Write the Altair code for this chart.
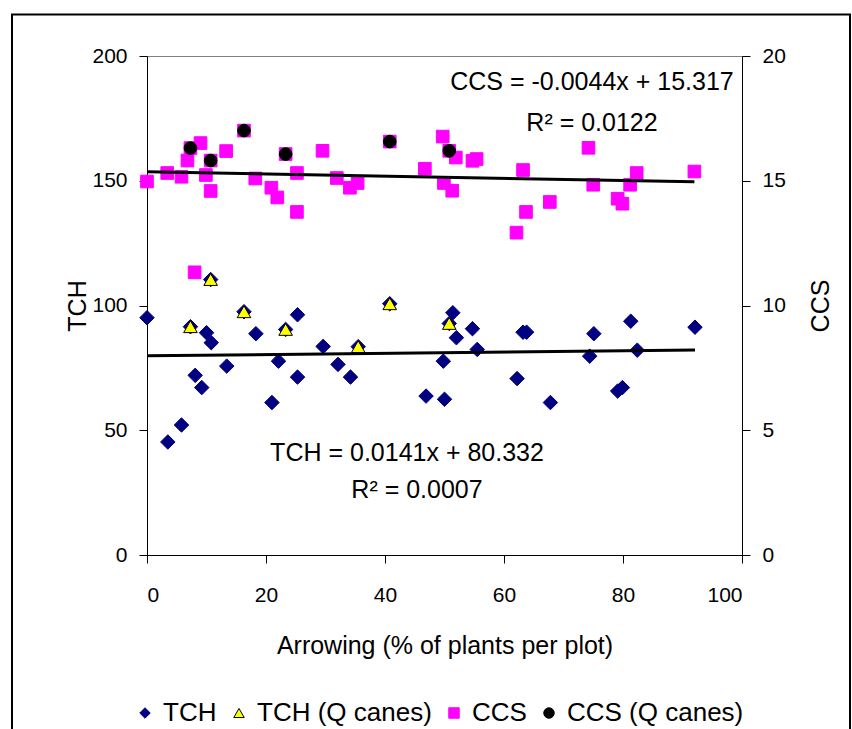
import altair as alt
import pandas as pd

# ---- data ----
tch_x = [0.0, 3.5, 5.8, 8.1, 9.2, 10.0, 10.8, 13.4, 18.3, 21.0, 22.1, 25.3, 25.3, 29.6,
         32.1, 34.2, 46.9, 49.8, 50.0, 51.4, 52.0, 54.7, 55.5, 62.2, 63.2, 63.8, 67.8,
         74.4, 75.1, 79.1, 79.9, 81.3, 82.4, 92.1]
tch_y = [95.1, 45.3, 52.1, 72.0, 67.1, 89.1, 85.1, 75.7, 88.7, 61.1, 77.7, 96.3, 71.3, 83.6,
         76.4, 71.3, 63.7, 77.7, 62.4, 97.1, 87.1, 90.7, 82.4, 70.7, 89.3, 89.3, 61.1,
         79.7, 88.7, 65.7, 67.1, 93.7, 82.1, 91.3]
tchq_x = [7.3, 10.7, 16.3, 23.3, 35.5, 40.8, 50.8]
tchq_y = [91.5, 110.4, 97.5, 90.4, 83.5, 100.7, 92.8]

ccs_x = [0.0, 3.4, 5.8, 6.8, 8.0, 9.0, 9.9, 10.7, 13.3, 18.2, 20.9, 21.9, 25.2, 25.2, 29.5,
         31.9, 34.1, 35.4, 46.7, 49.7, 49.9, 51.3, 51.9, 54.7, 55.4, 62.1, 63.2, 63.7, 67.7,
         74.2, 75.0, 79.1, 79.9, 81.2, 82.3, 92.0]
ccs_y = [14.97, 15.31, 15.16, 15.81, 11.33, 16.51, 15.23, 14.59, 16.19, 15.09, 14.72, 14.33,
         15.31, 13.75, 16.20, 15.11, 14.72, 14.91, 15.48, 16.77, 14.91, 14.60, 15.93, 15.80,
         15.87, 12.92, 15.43, 13.75, 14.15, 16.32, 14.84, 14.28, 14.08, 14.84, 15.31, 15.37]
ccsq_x = [7.3, 10.7, 16.3, 23.3, 40.8, 50.8]
ccsq_y = [16.31, 15.81, 17.01, 16.07, 16.57, 16.20]

series_names = ["TCH", "TCH (Q canes)", "CCS", "CCS (Q canes)"]
annotation_texts = ["CCS = -0.0044x + 15.317", "R\u00b2 = 0.0122",
                    "TCH = 0.0141x + 80.332", "R\u00b2 = 0.0007"]

# ---- styles ----
shapes = ["diamond", "triangle-up", "square", "circle"]
fills = ["#000080", "#FFFF00", "#FF00FF", "#000000"]
strokes = ["#000080", "#000000", "#FF00FF", "#000000"]
sizes = [210, 185, 160, 160]
FONT = "Liberation Sans"

tch_df = pd.DataFrame({
    "x": tch_x + tchq_x + tchq_x,
    "v": tch_y + tchq_y + tchq_y,
    "series": ["TCH"] * (len(tch_x) + len(tchq_x)) + ["TCH (Q canes)"] * len(tchq_x),
})
ccs_df = pd.DataFrame({
    "x": ccs_x + ccsq_x + ccsq_x,
    "v": ccs_y + ccsq_y + ccsq_y,
    "series": ["CCS"] * (len(ccs_x) + len(ccsq_x)) + ["CCS (Q canes)"] * len(ccsq_x),
})

legend = alt.Legend(title=None, orient="none", direction="horizontal",
                    legendX=-15, legendY=644, symbolSize=110, symbolStrokeWidth=1,
                    labelFont=FONT, labelFontSize=26, labelColor="black", labelLimit=400,
                    labelOffset=5, columnPadding=9, padding=0)

x_enc = alt.X("x:Q", scale=alt.Scale(domain=[0, 100], nice=False),
              axis=alt.Axis(values=[0, 20, 40, 60, 80, 100], title="Arrowing (% of plants per plot)",
                            labelPadding=21, titleX=297.5, titleY=90, titleBaseline="middle",
                            titleAlign="center"))
style_enc = dict(
    fill=alt.Fill("series:N", scale=alt.Scale(domain=series_names, range=fills), legend=legend),
    stroke=alt.Stroke("series:N", scale=alt.Scale(domain=series_names, range=strokes), legend=legend),
    shape=alt.Shape("series:N", scale=alt.Scale(domain=series_names, range=shapes), legend=legend),
)

y_tch = alt.Y("v:Q", scale=alt.Scale(domain=[0, 200], nice=False),
              axis=alt.Axis(orient="left", values=[0, 50, 100, 150, 200], title="TCH",
                            labelPadding=12, titleX=-70, titleY=249.5, titleAngle=270,
                            titleAlign="center", titleBaseline="middle"))
y_ccs = alt.Y("v:Q", scale=alt.Scale(domain=[0, 20], nice=False),
              axis=alt.Axis(orient="right", values=[0, 5, 10, 15, 20], title="CCS",
                            labelPadding=12, titleX=78, titleY=249.5, titleAngle=270,
                            titleAlign="center", titleBaseline="middle"))


def pts(df, name, y_enc):
    i = series_names.index(name)
    return alt.Chart(df).transform_filter(alt.datum.series == name).mark_point(
        opacity=1, strokeWidth=1, filled=False, size=sizes[i]).encode(
        x=x_enc, y=y_enc, **style_enc)


def trend(df, name, y_enc):
    return alt.Chart(df).transform_filter(alt.datum.series == name).transform_regression(
        "x", "v").mark_line(color="black", strokeWidth=3).encode(x=alt.X("x:Q"), y=alt.Y("v:Q"))


tch_layer = alt.layer(pts(tch_df, "TCH", y_tch), pts(tch_df, "TCH (Q canes)", y_tch),
                      trend(tch_df, "TCH", y_tch))
ccs_layer = alt.layer(pts(ccs_df, "CCS", y_ccs), pts(ccs_df, "CCS (Q canes)", y_ccs),
                      trend(ccs_df, "CCS", y_ccs))

one = alt.Data(values=[{}])
ann_pos = [(445, 26), (445, 67), (260, 397), (270, 434)]
ann = [alt.Chart(one).mark_text(text=t, font=FONT, fontSize=25, align="center",
                                baseline="middle", color="black").encode(
    x=alt.value(px), y=alt.value(py)) for t, (px, py) in zip(annotation_texts, ann_pos)]

frame = [
    alt.Chart(one).mark_rule(color="black", strokeWidth=2).encode(
        x=alt.value(-135), y=alt.value(-41.5), y2=alt.value(700)),
    alt.Chart(one).mark_rule(color="black", strokeWidth=2).encode(
        x=alt.value(-136), x2=alt.value(704), y=alt.value(-41.5)),
    alt.Chart(one).mark_rule(color="black", strokeWidth=2).encode(
        x=alt.value(703), y=alt.value(-41.5), y2=alt.value(700)),
]

chart = alt.layer(tch_layer, ccs_layer, *ann, *frame).resolve_scale(y="independent").properties(
    width=595, height=499,
    autosize=alt.AutoSizeParams(type="none"),
    padding={"left": 147, "top": 56, "right": 110, "bottom": 174},
).configure_axis(
    labelFont=FONT, labelFontSize=21, labelColor="black",
    titleFont=FONT, titleFontSize=25, titleFontWeight="normal", titleColor="black",
    domainColor="black", tickColor="black", tickSize=8, grid=False,
).configure_view(stroke="#808080", strokeWidth=1)

chart.save("out.html", embed_options={"renderer": "svg", "actions": False})
